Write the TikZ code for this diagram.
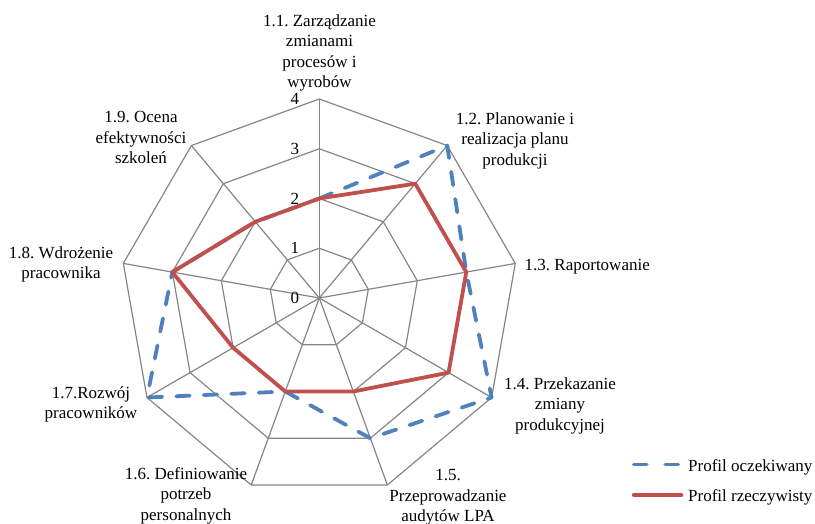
\documentclass[tikz,border=0pt]{standalone}
\usepackage{fontspec}
\setmainfont{Liberation Serif}
\frenchspacing
\definecolor{gridgray}{RGB}{134,134,134}
\definecolor{expblue}{RGB}{79,129,189}
\definecolor{actred}{RGB}{192,80,77}
\begin{document}
\begin{tikzpicture}[x=1pt,y=1pt,
  gridline/.style={draw=gridgray, line width=1.2pt, line join=miter},
  txt/.style={font=\fontsize{17}{20.3}\selectfont, inner sep=0pt},
  axislabel/.style={txt, align=center, anchor=north},
  ticklabel/.style={txt, anchor=east, xshift=-20pt},
  expected/.style={draw=expblue, line width=3.8pt, line cap=round, line join=round, dash pattern=on 13.5pt off 14pt},
  actual/.style={draw=actred, line width=3.8pt, line cap=round, line join=round}]
\useasboundingbox (0,0) rectangle (815,-524);
\coordinate (O) at (319.3,-298);
% grid points: ring r (1..4) on axis i (0..8), clockwise from the top
\foreach \i in {0,...,8}{
  \foreach \r in {1,...,4}{
    \path (O) ++({90-40*\i}:{\r*49.75}) coordinate (g\r-\i);
  }
}
\foreach \r in {1,...,4}
  \draw[gridline] (g\r-0) -- (g\r-1) -- (g\r-2) -- (g\r-3) -- (g\r-4) -- (g\r-5) -- (g\r-6) -- (g\r-7) -- (g\r-8) -- cycle;
\foreach \i in {0,...,8}
  \draw[gridline] (O) -- (g4-\i);
% scale values
\node[ticklabel] (t0) at (O) {0};
\foreach \r in {1,...,4}
  \node[ticklabel] (t\r) at (g\r-0) {\r};
% series points
\foreach \v [count=\i from 0] in {2,4,3,4,3,2,4,3,2}
  \path (O) ++({90-40*\i}:{\v*49.75}) coordinate (e\i);
\foreach \v [count=\i from 0] in {2,3,3,3,2,2,2,3,2}
  \path (O) ++({90-40*\i}:{\v*49.75}) coordinate (a\i);
\draw[expected] (e0) -- (e1) -- (e2) -- (e3) -- (e4) -- (e5) -- (e6) -- (e7) -- (e8) -- cycle;
\draw[actual] (a0) -- (a1) -- (a2) -- (a3) -- (a4) -- (a5) -- (a6) -- (a7) -- (a8) -- cycle;
% category labels
\node[axislabel] (l1) at (319.5,-14.5) {1.1. Zarządzanie\\zmianami\\procesów i\\wyrobów};
\node[axislabel] (l2) at (515,-112.5) {1.2. Planowanie i\\realizacja planu\\produkcji};
\node[txt, anchor=base west] (l3) at (524.5,-271) {1.3. Raportowanie};
\node[axislabel] (l4) at (560,-377.5) {1.4. Przekazanie\\zmiany\\produkcyjnej};
\node[axislabel] (l5) at (448,-469.5) {1.5.\\Przeprowadzanie\\audytów LPA};
\node[axislabel] (l6) at (186,-467.5) {1.6. Definiowanie\\potrzeb\\personalnych};
\node[axislabel] (l7) at (91,-386.5) {1.7.Rozwój\\pracowników};
\node[axislabel] (l8) at (61,-246.5) {1.8. Wdrożenie\\pracownika};
\node[axislabel] (l9) at (141,-111.5) {1.9. Ocena\\efektywności\\szkoleń};
% legend
\coordinate (le1) at (633.8,-464.5);
\coordinate (le2) at (680,-464.5);
\coordinate (la1) at (633.8,-495);
\coordinate (la2) at (681.5,-495);
\draw[expected, dash pattern=on 13pt off 18.5pt] (le1) -- (le2);
\draw[actual] (la1) -- (la2);
\node[txt, anchor=base west] (leg1) at (688,-471) {Profil oczekiwany};
\node[txt, anchor=base west] (leg2) at (688,-501) {Profil rzeczywisty};
\end{tikzpicture}
\end{document}
